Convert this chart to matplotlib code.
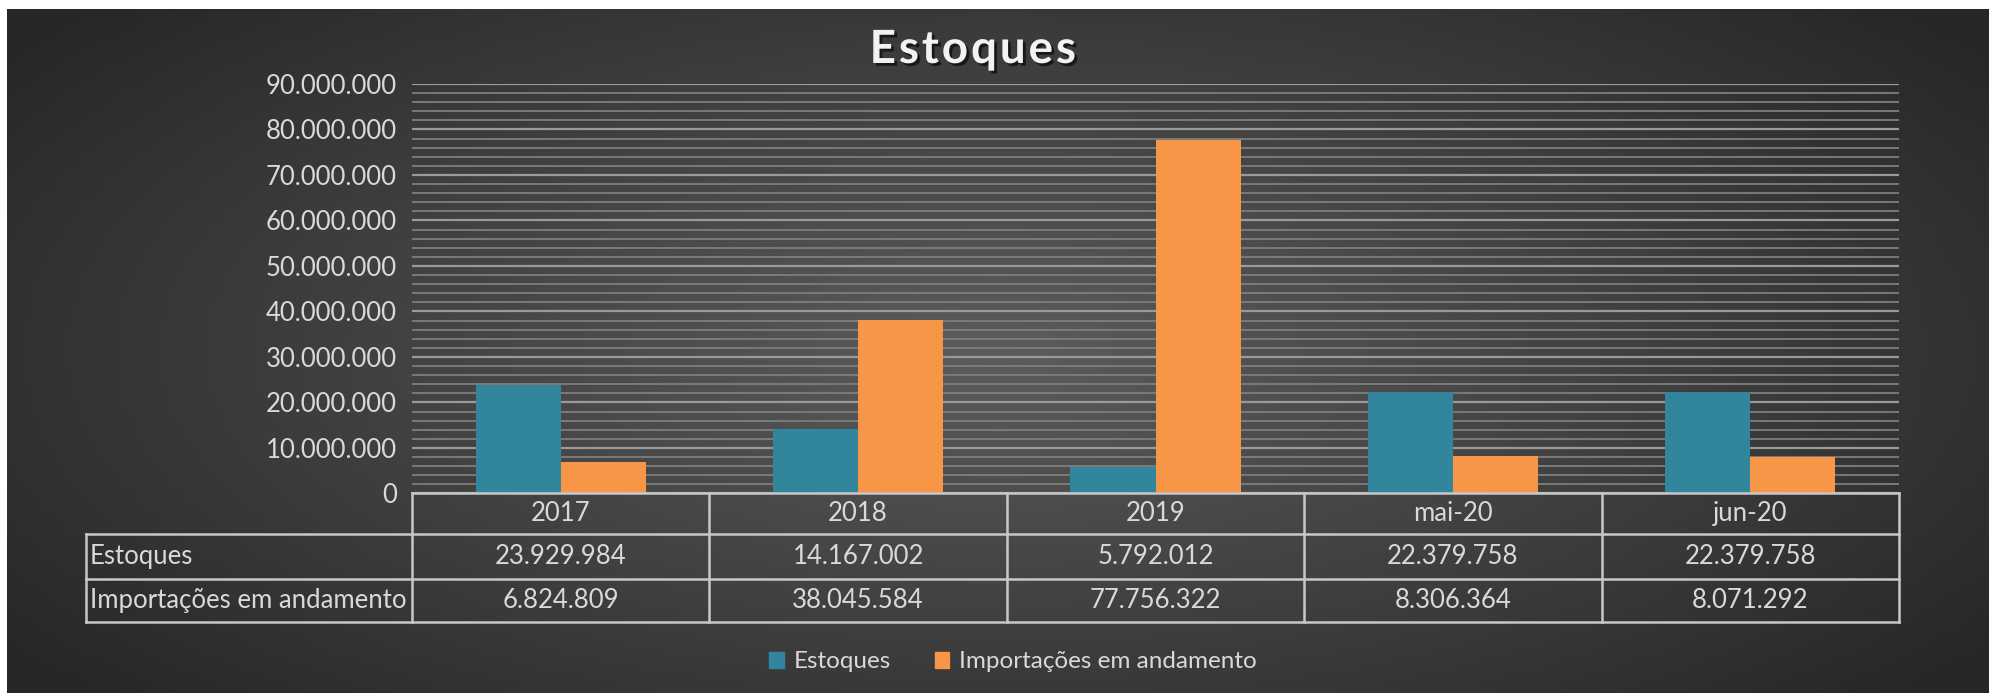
import matplotlib
matplotlib.use('Agg')
import matplotlib.pyplot as plt
import matplotlib.patheffects as pe
from matplotlib.patches import Patch
from matplotlib.ticker import MultipleLocator, FuncFormatter
import numpy as np

plt.rcParams['font.family'] = ['Lato', 'DejaVu Sans']

categorias = ['2017', '2018', '2019', 'mai-20', 'jun-20']
estoques = [23929984, 14167002, 5792012, 22379758, 22379758]
importacoes = [6824809, 38045584, 77756322, 8306364, 8071292]
series_nomes = ['Estoques', 'Importações em andamento']

cor_estoques = '#31859c'
cor_import = '#f79646'
cor_texto = '#d9d9d9'
cor_linha = '#c8c8c8'

W, H = 1989, 693
fig = plt.figure(figsize=(W / 100, H / 100), dpi=100, facecolor='white')

# fundo escuro com gradiente radial
bg = fig.add_axes([7 / W, 0, 1 - 7 / W, 1 - 9 / H])
bg.set_axis_off()
gx, gy = np.meshgrid(np.linspace(0, 1, 400), np.linspace(0, 1, 200))
r = np.sqrt(((gx - 0.5) / 0.62) ** 2 + ((gy - 0.5) / 0.75) ** 2)
r = np.clip(r, 0, 1)
centro, borda = 0x5c / 255, 0x27 / 255
g = centro * (1 - r) + borda * r
bg.imshow(np.dstack([g, g, g]), aspect='auto', extent=[0, 1, 0, 1])
bg.set_xlim(0, 1)
bg.set_ylim(0, 1)

ax = fig.add_axes([412 / W, 1 - 493.4 / H, (1899 - 412) / W, (493.4 - 84) / H])
ax.set_facecolor('none')
x = np.arange(len(categorias))
larg = 0.286
ax.bar(x - larg / 2, estoques, larg, color=cor_estoques, zorder=3)
ax.bar(x + larg / 2, importacoes, larg, color=cor_import, zorder=3)

ax.set_xlim(-0.5, len(categorias) - 0.5)
ax.set_ylim(0, 90000000)
ax.yaxis.set_major_locator(MultipleLocator(10000000))
ax.yaxis.set_minor_locator(MultipleLocator(2000000))
ax.yaxis.set_major_formatter(FuncFormatter(lambda v, p: f'{int(v):,}'.replace(',', '.')))
ax.grid(axis='y', which='major', color='#9a9a9a', lw=1.6, zorder=1)
ax.grid(axis='y', which='minor', color='#7e7e7e', lw=1.3, zorder=1)
ax.tick_params(axis='y', which='both', length=0, labelsize=18.5, labelcolor=cor_texto, pad=11)
ax.set_xticks([])
for s in ax.spines.values():
    s.set_visible(False)

# tabela de dados abaixo do eixo
tr = ax.get_xaxis_transform()
linhas_y = [0, -0.0993, -0.208, -0.313]
x_esq = -0.5 - (412 - 86) / 297
x_dir = len(categorias) - 0.5
kw = dict(color=cor_linha, lw=1.8, transform=tr, clip_on=False, zorder=4)
ax.plot([-0.5, x_dir], [0, 0], **kw)
for yy in linhas_y[1:]:
    ax.plot([x_esq, x_dir], [yy, yy], **kw)
ax.plot([x_esq, x_esq], [linhas_y[1], linhas_y[3]], **kw)
for k in range(len(categorias) + 1):
    ax.plot([k - 0.5, k - 0.5], [0, linhas_y[3]], **kw)

txt = dict(transform=tr, color=cor_texto, fontsize=18.5, va='center', clip_on=False)
for i, c in enumerate(categorias):
    ax.text(i, (linhas_y[0] + linhas_y[1]) / 2, c, ha='center', **txt)
linhas_tab = [estoques, importacoes]
for j, (nome, vals) in enumerate(zip(series_nomes, linhas_tab)):
    ym = (linhas_y[j + 1] + linhas_y[j + 2]) / 2
    ax.text(x_esq + 0.015, ym, nome, ha='left', **txt)
    for i, v in enumerate(vals):
        ax.text(i, ym, f'{v:,}'.replace(',', '.'), ha='center', **txt)

titulo = '\u200a'.join('Estoques')
fig.text(973 / W, 1 - 50 / H, titulo, ha='center', va='center', fontsize=33,
         fontweight='bold', color='#f2f2f2',
         path_effects=[pe.withSimplePatchShadow(offset=(2, -2), shadow_rgbFace='black', alpha=0.6)])

handles = [Patch(color=cor_estoques), Patch(color=cor_import)]
fig.legend(handles, series_nomes, loc='center', bbox_to_anchor=(1013 / W, 1 - 662 / H),
           ncol=2, frameon=False, fontsize=17.5, labelcolor=cor_texto,
           handlelength=0.6, handleheight=0.6, handletextpad=0.4, columnspacing=1.8)

fig.savefig('out.png', dpi=100, facecolor='white')
